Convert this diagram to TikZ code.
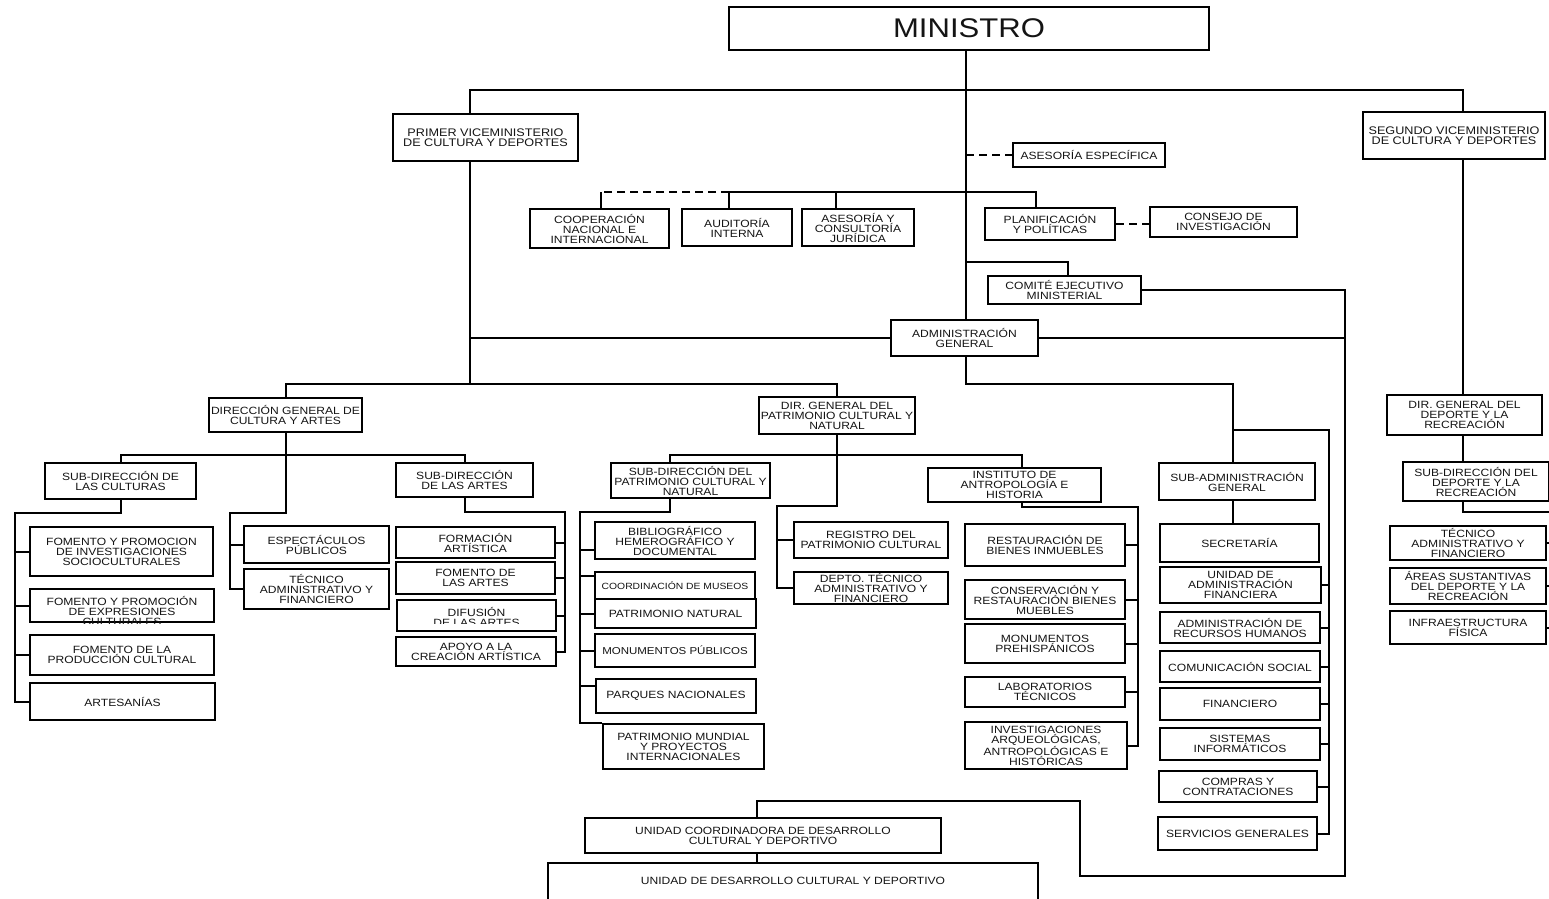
\documentclass[tikz,border=0pt]{standalone}
\usepackage{fontspec}
\setmainfont{Liberation Sans}[FakeStretch=1.15]
\newcommand\orglbl{\fontsize{10.5}{10}\selectfont}
\newcommand\orgsmall{\fontsize{9}{10}\selectfont}
% \orgbox[extra options]{name}{x1}{y1}{x2}{y2}{text}
\newcommand\orgbox[7][]{%
  \node[box,#1,minimum width={#5-#3},minimum height={#6-#4}] (#2)
    at ({(#3+#5)/2},{(#4+#6)/2}) {#7};}
\begin{document}
\begin{tikzpicture}[x=1pt,y=-1pt,
  box/.style={draw,line width=2.2pt,inner sep=0pt,align=center,font=\orglbl,text=black!92},
  link/.style={line width=2pt},
  staff/.style={line width=2pt,dash pattern=on 8pt off 5pt},
  txt/.style={inner sep=0pt,align=center,font=\orglbl,text=black!92}]
\fill[white] (0,0) rectangle (1549,898);
\useasboundingbox (0,0) rectangle (1549,898);

% ---------- top level ----------
\orgbox{min}{729}{7}{1209}{50}{\fontsize{27}{27}\selectfont MINISTRO}
\orgbox[font=\fontsize{11}{10.5}\selectfont]{pv}{393}{114}{578}{161}{PRIMER VICEMINISTERIO\\DE CULTURA Y DEPORTES}
\orgbox[font=\fontsize{11}{10.5}\selectfont]{sv}{1363}{112}{1545}{159}{SEGUNDO VICEMINISTERIO\\DE CULTURA Y DEPORTES}
\orgbox{ae}{1013}{143}{1165}{167}{ASESORÍA ESPECÍFICA}
\orgbox{coop}{530}{209}{669}{248}{COOPERACIÓN\\NACIONAL E\\INTERNACIONAL}
\orgbox{aud}{682}{209}{792}{246}{AUDITORÍA\\INTERNA}
\orgbox{acj}{802}{209}{914}{246}{ASESORÍA Y\\CONSULTORÍA\\JURÍDICA}
\orgbox{plan}{985}{208}{1115}{240}{PLANIFICACIÓN\\Y POLÍTICAS}
\orgbox{cons}{1150}{207}{1297}{237}{CONSEJO DE\\INVESTIGACIÓN}
\orgbox{com}{988}{276}{1141}{304}{COMITÉ EJECUTIVO\\MINISTERIAL}
\orgbox{adm}{891}{320}{1038}{356}{ADMINISTRACIÓN\\GENERAL}

% ---------- cultura y artes ----------
\orgbox{dgca}{209}{398}{362}{432}{DIRECCIÓN GENERAL DE\\CULTURA Y ARTES}
\orgbox{sdc}{45}{463}{196}{499}{SUB-DIRECCIÓN DE\\LAS CULTURAS}
\orgbox{sda}{396}{463}{533}{497}{SUB-DIRECCIÓN\\DE LAS ARTES}
\orgbox{fpi}{30}{527}{213}{576}{FOMENTO Y PROMOCION\\DE INVESTIGACIONES\\SOCIOCULTURALES}
\orgbox{fpe}{30}{589}{214}{622}{}
\orgbox{fpc}{30}{635}{214}{675}{FOMENTO DE LA\\PRODUCCIÓN CULTURAL}
\orgbox{art}{30}{683}{215}{720}{ARTESANÍAS}
\orgbox{esp}{244}{526}{389}{563}{ESPECTÁCULOS\\PÚBLICOS}
\orgbox{tec1}{244}{569}{389}{609}{TÉCNICO\\ADMINISTRATIVO Y\\FINANCIERO}
\orgbox{form}{396}{527}{555}{558}{FORMACIÓN\\ARTÍSTICA}
\orgbox{fom}{396}{562}{555}{594}{FOMENTO DE\\LAS ARTES}
\orgbox{dif}{397}{600}{556}{631}{}
\orgbox{apo}{396}{637}{556}{666}{APOYO A LA\\CREACIÓN ARTÍSTICA}
% labels cut by the strip at y = 622
\begin{scope}
  \clip (fpe.north west) rectangle (fpe.south east);
  \node[txt] at ([yshift=-5pt]fpe.center) {FOMENTO Y PROMOCIÓN\\DE EXPRESIONES\\CULTURALES};
\end{scope}
\begin{scope}
  \clip (dif.north west) rectangle ([yshift=9pt]dif.south east);
  \node[txt] at ([yshift=-1pt]dif.center) {DIFUSIÓN\\DE LAS ARTES};
\end{scope}

% ---------- patrimonio ----------
\orgbox{dgpc}{759}{397}{915}{434}{DIR. GENERAL DEL\\PATRIMONIO CULTURAL Y\\NATURAL}
\orgbox{sdp}{611}{463}{770}{498}{SUB-DIRECCIÓN DEL\\PATRIMONIO CULTURAL Y\\NATURAL}
\orgbox{bib}{595}{522}{755}{559}{BIBLIOGRÁFICO\\HEMEROGRÁFICO Y\\DOCUMENTAL}
\orgbox[font=\orgsmall]{mus}{595}{572}{755}{599}{COORDINACIÓN DE MUSEOS}
\orgbox{pnat}{595}{599}{756}{628}{PATRIMONIO NATURAL}
\orgbox[font=\fontsize{10}{10}\selectfont]{mpub}{595}{634}{755}{667}{MONUMENTOS PÚBLICOS}
\orgbox{parq}{596}{679}{756}{713}{PARQUES NACIONALES}
\orgbox{pmun}{603}{724}{764}{769}{PATRIMONIO MUNDIAL\\Y PROYECTOS\\INTERNACIONALES}
\orgbox{reg}{794}{522}{948}{558}{REGISTRO DEL\\PATRIMONIO CULTURAL}
\orgbox{dep}{794}{572}{948}{604}{DEPTO. TÉCNICO\\ADMINISTRATIVO Y\\FINANCIERO}
\orgbox{iah}{928}{468}{1101}{502}{INSTITUTO DE\\ANTROPOLOGÍA E\\HISTORIA}
\orgbox{rbi}{965}{524}{1125}{566}{RESTAURACIÓN DE\\BIENES INMUEBLES}
\orgbox{crb}{965}{580}{1125}{619}{CONSERVACIÓN Y\\RESTAURACIÓN BIENES\\MUEBLES}
\orgbox{mph}{965}{624}{1125}{663}{MONUMENTOS\\PREHISPÁNICOS}
\orgbox{lab}{965}{677}{1125}{707}{LABORATORIOS\\TÉCNICOS}
\orgbox{inv}{965}{722}{1127}{769}{INVESTIGACIONES\\ARQUEOLÓGICAS,\\ANTROPOLÓGICAS E\\HISTÓRICAS}

% ---------- sub-administracion ----------
\orgbox{sag}{1159}{463}{1315}{500}{SUB-ADMINISTRACIÓN\\GENERAL}
\orgbox{sec}{1160}{524}{1319}{562}{SECRETARÍA}
\orgbox{uaf}{1160}{567}{1321}{603}{UNIDAD DE\\ADMINISTRACIÓN\\FINANCIERA}
\orgbox{rrh}{1160}{612}{1320}{643}{ADMINISTRACIÓN DE\\RECURSOS HUMANOS}
\orgbox{csoc}{1160}{651}{1320}{682}{COMUNICACIÓN SOCIAL}
\orgbox{fin}{1160}{688}{1320}{720}{FINANCIERO}
\orgbox{sis}{1160}{728}{1320}{760}{SISTEMAS\\INFORMÁTICOS}
\orgbox{cmp}{1159}{771}{1317}{802}{COMPRAS Y\\CONTRATACIONES}
\orgbox{srv}{1158}{817}{1317}{850}{SERVICIOS GENERALES}

% ---------- deporte ----------
\orgbox{dgd}{1387}{395}{1542}{435}{DIR. GENERAL DEL\\DEPORTE Y LA\\RECREACIÓN}
\orgbox{sdd}{1403}{462}{1549}{501}{SUB-DIRECCIÓN DEL\\DEPORTE Y LA\\RECREACIÓN}
\orgbox{tec2}{1390}{526}{1546}{560}{TÉCNICO\\ADMINISTRATIVO Y\\FINANCIERO}
\orgbox{asd}{1390}{568}{1546}{604}{ÁREAS SUSTANTIVAS\\DEL DEPORTE Y LA\\RECREACIÓN}
\orgbox{inf}{1390}{611}{1546}{644}{INFRAESTRUCTURA\\FÍSICA}

% ---------- desarrollo ----------
\orgbox{ucd}{585}{818}{941}{853}{UNIDAD COORDINADORA DE DESARROLLO\\CULTURAL Y DEPORTIVO}
\orgbox{udc}{548}{863}{1038}{907}{}
\node[txt] (udct) at ([yshift=4pt]udc.center) {UNIDAD DE DESARROLLO CULTURAL Y DEPORTIVO};

% ---------- routing points ----------
\coordinate (tk) at (966,0);
\coordinate (pvx) at (470,0);
\coordinate (svx) at (1463,0);
\coordinate (topbar) at (966,90);
\coordinate (staffbar) at (966,192);
\coordinate (combar) at (966,262);
\coordinate (coopx) at (601,0);
\coordinate (audx) at (729,0);
\coordinate (acjx) at (836,0);
\coordinate (planx) at (1036,0);
\coordinate (comx) at (1068,0);
\coordinate (rv) at (1345,876);
\coordinate (lp) at (1080,801);
\coordinate (ucdx) at (757,0);
\coordinate (dirbar) at (470,384);
\coordinate (adbar) at (966,384);
\coordinate (subbar) at (0,455);
\coordinate (bkC) at (15,513);
\coordinate (bkE) at (230,513);
\coordinate (bkA) at (565,512);
\coordinate (sdpx) at (670,0);
\coordinate (bkP) at (580,512);
\coordinate (bkR) at (777,506);
\coordinate (iahx) at (1022,0);
\coordinate (bkI) at (1138,507);
\coordinate (sagbar) at (1233,430);
\coordinate (bkG) at (1329,430);
\coordinate (bkD) at (1552,512);

% ---------- connectors ----------
\draw[link] (tk |- min.south) -- (tk |- adm.north);
\draw[link] (pvx |- pv.north) |- (topbar) -| (svx |- sv.north);
\draw[staff] (tk |- ae.west) -- (ae.west);
\draw[link] (staffbar) -| (acjx |- acj.north);
\draw[link] (acjx |- staffbar) -| (audx |- aud.north);
\draw[staff] (audx |- staffbar) -- (coopx |- staffbar);
\draw[link] (coopx |- staffbar) -- (coopx |- coop.north);
\draw[link] (staffbar) -| (planx |- plan.north);
\draw[staff] (plan.east) -- (plan.east -| cons.west);
\draw[link] (combar) -| (comx |- com.north);
\draw[link] (com.east) -| (rv) -| (lp) -| (ucdx |- ucd.north);
\draw[link] (ucdx |- ucd.south) -- (ucdx |- udc.north);
\draw[link] (adm.west) -- (pvx |- adm.west);
\draw[link] (adm.east) -- (rv |- adm.east);
\draw[link] (pvx |- pv.south) -- (dirbar);
\draw[link] (dgca.north) |- (dirbar) -| (dgpc.north);

% cultura y artes
\draw[link] (sdc.north) |- (dgca.south |- subbar) -| (sda.north);
\draw[link] (dgca.south) |- (bkE) |- (tec1.west);
\draw[link] (esp.west -| bkE) -- (esp.west);
\draw[link] (sdc.south) |- (bkC) |- (art.west);
\foreach \n in {fpi,fpe,fpc} \draw[link] (\n.west -| bkC) -- (\n.west);
\draw[link] (sda.south) |- (bkA) |- (apo.east);
\foreach \n in {form,fom,dif} \draw[link] (\n.east -| bkA) -- (\n.east);

% patrimonio
\draw[link] (sdpx |- sdp.north) |- (dgpc.south |- subbar) -| (iahx |- iah.north);
\draw[link] (dgpc.south) |- (bkR) |- (dep.west);
\draw[link] (reg.west -| bkR) -- (reg.west);
\draw[link] (sdpx |- sdp.south) |- (bkP) |- (pmun.north west);
\draw[link] ([yshift=-9pt]bib.west -| bkP) -- ([yshift=-9pt]bib.west);
\draw[link] ([yshift=10pt]mus.west -| bkP) -- ([yshift=10pt]mus.west);
\foreach \n in {pnat,mpub} \draw[link] (\n.west -| bkP) -- (\n.west);
\draw[link] ([yshift=10pt]parq.west -| bkP) -- ([yshift=10pt]parq.west);
\draw[link] (iahx |- iah.south) |- (bkI) |- (inv.east);
\foreach \n in {rbi,crb,mph,lab} \draw[link] (\n.east -| bkI) -- (\n.east);

% sub-administracion
\draw[link] (tk |- adm.south) -- (adbar) -| (sagbar |- sag.north);
\draw[link] (sagbar) -- (bkG) |- (srv.east);
\foreach \n in {uaf,rrh,csoc,fin,sis,cmp} \draw[link] (\n.east -| bkG) -- (\n.east);
\draw[link] (sagbar |- sag.south) -- (sagbar |- sec.north);

% deporte
\draw[link] (svx |- sv.south) -- (svx |- dgd.north);
\draw[link] (svx |- dgd.south) -- (svx |- sdd.north);
\draw[link] (svx |- sdd.south) |- (bkD) |- (inf.east);
\foreach \n in {tec2,asd} \draw[link] (\n.east -| bkD) -- (\n.east);
\end{tikzpicture}
\end{document}
